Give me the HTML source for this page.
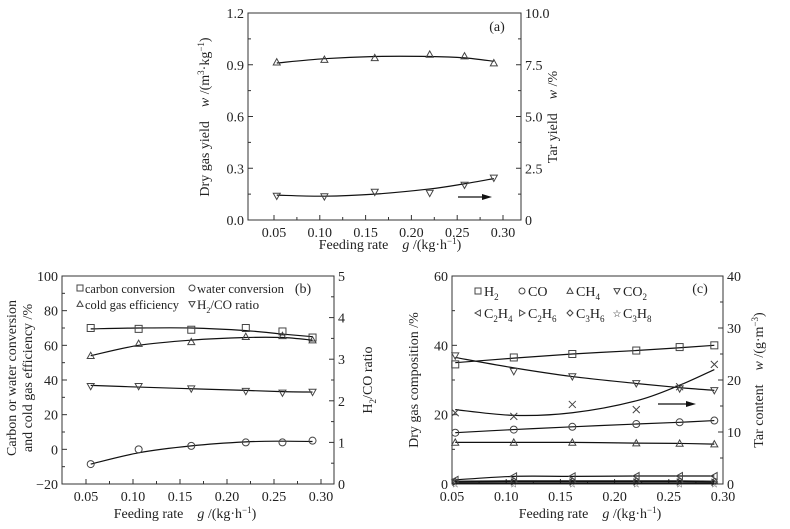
<!DOCTYPE html>
<html><head><meta charset="utf-8"><style>
html,body{margin:0;padding:0;background:#fff;}
svg text{font-family:"Liberation Serif",serif;fill:#222;}
</style></head><body>
<svg id="fig" width="790" height="524" viewBox="0 0 790 524" xmlns="http://www.w3.org/2000/svg"></svg>
<script>
// ---- Panel (a) data ----
const aX = [0.053, 0.105, 0.160, 0.220, 0.258, 0.290];
const aGas = [0.915, 0.93, 0.94, 0.96, 0.95, 0.91];
const aGasFit = [0.91, 0.935, 0.948, 0.948, 0.94, 0.92];
const aTar = [1.16, 1.13, 1.35, 1.30, 1.69, 2.03];
const aTarFit = [1.2, 1.15, 1.25, 1.5, 1.75, 2.0];
const aXTicks = [0.05, 0.10, 0.15, 0.20, 0.25, 0.30];
const aYTicks = ["0.0","0.3","0.6","0.9","1.2"];
const aY2Ticks = ["0","2.5","5.0","7.5","10.0"];
// ---- Panel (b) data ----
const bX = [0.055, 0.106, 0.162, 0.220, 0.259, 0.291];
const bCarbon = [70, 69.5, 69, 70, 68, 64.5];
const bCarbonFit = [69.5, 70, 70, 68.5, 66.5, 65];
const bCold = [54, 61, 62, 65, 65.5, 63];
const bColdFit = [54, 60, 63, 64.5, 64.5, 63];
const bRatio = [2.35, 2.35, 2.29, 2.23, 2.19, 2.21];
const bRatioFit = [2.37, 2.33, 2.29, 2.25, 2.22, 2.21];
const bWater = [-8.5, 0, 2, 4, 4, 5];
const bWaterFit = [-8.5, -2, 2, 4.3, 4.7, 4.5];
const bYTicks = ["-20","0","20","40","60","80","100"];
const bY2Ticks = ["0","1","2","3","4","5"];
// ---- Panel (c) data ----
const cX = [0.053, 0.107, 0.161, 0.220, 0.260, 0.292];
const cH2 = [34.5, 36.5, 37.5, 38.5, 39.5, 40];
const cH2Fit = [35, 36.3, 37.5, 38.5, 39.3, 40];
const cCO2 = [37, 32.5, 31, 29, 27.5, 27];
const cCO2Fit = [36.5, 33.5, 31, 29, 27.8, 27];
const cTar = [13.7, 13, 15.3, 14.3, 18.7, 23];
const cTarFit = [14.3, 13.2, 13.7, 16, 19, 22];
const cCO = [14.8, 15.7, 16.5, 17.3, 17.8, 18.3];
const cCH4 = [12, 12, 12, 11.8, 11.7, 11.5];
const cC2H4 = [1.2, 2.2, 2.2, 2.3, 2.3, 2.3];
const cC2H6 = [0.5, 0.6, 0.6, 0.6, 0.6, 0.5];
const cC3H6 = [0.8, 0.9, 0.9, 0.9, 0.9, 0.8];
const cC3H8 = [0.2, 0.2, 0.2, 0.2, 0.2, 0.2];
const cXTicks = [0.05, 0.10, 0.15, 0.20, 0.25, 0.30];
const cYTicks = ["0","20","40","60"];
const cY2Ticks = ["0","10","20","30","40"];

const NS = "http://www.w3.org/2000/svg";
const svg = document.getElementById('fig');
function el(tag, attrs, parent, txt){
  const e = document.createElementNS(NS, tag);
  for (const k in attrs) e.setAttribute(k, attrs[k]);
  if (txt !== undefined) e.textContent = txt;
  (parent || svg).appendChild(e);
  return e;
}
function scale(d0, d1, r0, r1){ return v => r0 + (v - d0) * (r1 - r0) / (d1 - d0); }
function smooth(pts){
  let d = "M" + pts[0][0] + "," + pts[0][1];
  for (let i = 0; i < pts.length - 1; i++){
    const p0 = pts[i-1] || pts[i], p1 = pts[i], p2 = pts[i+1], p3 = pts[i+2] || p2;
    const c1 = [p1[0] + (p2[0]-p0[0])/6, p1[1] + (p2[1]-p0[1])/6];
    const c2 = [p2[0] - (p3[0]-p1[0])/6, p2[1] - (p3[1]-p1[1])/6];
    d += " C" + c1 + " " + c2 + " " + p2;
  }
  return d;
}
function marker(g, type, x, y, s){
  s = s || 4;
  const st = {fill:"none", stroke:"#444", "stroke-width":1};
  let e;
  if (type === "sq") e = el("rect", Object.assign({x:x-s, y:y-s, width:2*s, height:2*s}, st), g);
  else if (type === "ci") e = el("circle", Object.assign({cx:x, cy:y, r:s}, st), g);
  else if (type === "tu") e = el("polygon", Object.assign({points:`${x},${y-s} ${x-s},${y+s*0.8} ${x+s},${y+s*0.8}`}, st), g);
  else if (type === "td") e = el("polygon", Object.assign({points:`${x},${y+s} ${x-s},${y-s*0.8} ${x+s},${y-s*0.8}`}, st), g);
  else if (type === "tl") e = el("polygon", Object.assign({points:`${x-s},${y} ${x+s*0.8},${y-s} ${x+s*0.8},${y+s}`}, st), g);
  else if (type === "tr") e = el("polygon", Object.assign({points:`${x+s},${y} ${x-s*0.8},${y-s} ${x-s*0.8},${y+s}`}, st), g);
  else if (type === "di") e = el("polygon", Object.assign({points:`${x},${y-s} ${x+s},${y} ${x},${y+s} ${x-s},${y}`}, st), g);
  else if (type === "x") e = el("path", Object.assign({d:`M${x-s},${y-s}L${x+s},${y+s}M${x-s},${y+s}L${x+s},${y-s}`}, st), g);
  else if (type === "st") e = el("text", {x:x, y:y+4, "font-size":10, "text-anchor":"middle"}, g, "☆");
  
  
}
function series(g, name, xs, ys, fit, sx, sy, type, s){
  const sg = el("g", {}, g);
  
  
  if (fit){
    const p = el("path", {d:smooth(xs.map((x,i)=>[sx(x), sy(fit[i])])), fill:"none", stroke:"#111", "stroke-width":1.2}, sg);
    
    
  }
  xs.forEach((x,i)=>marker(sg, type, sx(x), sy(ys[i]), s));
}
function axes(g, L, R, T, B, sx, xt, xd, yl, yr){
  const fr = el("rect", {x:L, y:T, width:R-L, height:B-T, fill:"none", stroke:"#333", "stroke-width":1}, g);
  
  
  const xg = el("g", {}, g);
  
  
  xt.forEach(v=>{
    const x = sx(v);
    el("line", {x1:x, x2:x, y1:B, y2:B-5, stroke:"#333"}, xg);
    const m = sx(v + 0.025);
    if (m < R - 2) el("line", {x1:m, x2:m, y1:B, y2:B-3, stroke:"#333"}, xg);
    const t = el("text", {x:x, y:B+17, "font-size":14, "text-anchor":"middle"}, xg, v.toFixed(xd));
    
    
  });
  [[yl, L, -1, "end"], [yr, R, 1, "start"]].forEach(([ticks, X, dir, anc])=>{
    const yg = el("g", {}, g);
    
    
    const n = ticks.length - 1;
    ticks.forEach((lab, i)=>{
      const y = B - (B - T) * i / n;
      el("line", {x1:X, x2:X - dir*5, y1:y, y2:y, stroke:"#333"}, yg);
      if (i < n){ const ym = y - (B-T)/n/2; el("line", {x1:X, x2:X - dir*3, y1:ym, y2:ym, stroke:"#333"}, yg); }
      const t = el("text", {x:X + dir*4, y:y+5, "font-size":14, "text-anchor":anc}, yg, lab.replace("-", "\u2212"));
      
      
    });
  });
}
function label(g, x, y, html, name, rot){
  const t = el("text", {x:x, y:y, "font-size":14, "text-anchor":"middle", transform: rot ? `rotate(-90 ${x} ${y})` : ""}, g);
  t.innerHTML = html;
  
  
}
function arrow(g, x1, x2, y){
  const a = el("g", {}, g);
  
  
  el("line", {x1:x1, x2:x2-8, y1:y, y2:y, stroke:"#111", "stroke-width":1.3}, a);
  el("polygon", {points:`${x2},${y} ${x2-10},${y-3} ${x2-10},${y+3}`, fill:"#111"}, a);
}
const xlab = 'Feeding rate &#160;&#160;&#160;<tspan font-style="italic">g</tspan> /(kg·h<tspan dy="-5" font-size="9">−1</tspan><tspan dy="5">)</tspan>';

// ---- Panel (a) ----
(function(){
  const g = el("g", {});  
  const L=248,R=521,T=13,B=220;
  const sx = scale(0.05, 0.30, 274, 503), sy = scale(0, 1.2, B, T), sy2 = scale(0, 10, B, T);
  axes(g, L, R, T, B, sx, aXTicks, 2, aYTicks, aY2Ticks);
  series(g, "dry-gas-yield", aX, aGas, aGasFit, sx, sy, "tu", 3.5);
  series(g, "tar-yield", aX, aTar, aTarFit, sx, sy2, "td", 3.5);
  arrow(g, 458, 492, 197);
  label(g, 497, 31, "(a)", "panel-label");
  label(g, 390, 249, xlab, "x-axis-title");
  label(g, 209, 117, 'Dry gas yield &#160;&#160;&#160;<tspan font-style="italic">w</tspan> /(m<tspan dy="-5" font-size="9">3</tspan><tspan dy="5">·kg</tspan><tspan dy="-5" font-size="9">−1</tspan><tspan dy="5">)</tspan>', "y-axis-title", true);
  label(g, 557, 117, 'Tar yield &#160;&#160;&#160;<tspan font-style="italic">w</tspan> /%', "right-y-axis-title", true);
})();

// ---- Panel (b) ----
(function(){
  const g = el("g", {});  
  const L=62,R=334,T=276,B=484;
  const sx = scale(0.05, 0.30, 86, 321), sy = scale(-20, 100, B, T), sy2 = scale(0, 5, B, T);
  axes(g, L, R, T, B, sx, aXTicks, 2, bYTicks, bY2Ticks);
  series(g, "carbon-conversion", bX, bCarbon, bCarbonFit, sx, sy, "sq", 3.5);
  series(g, "cold-gas-efficiency", bX, bCold, bColdFit, sx, sy, "tu", 3.5);
  series(g, "h2-co-ratio", bX, bRatio, bRatioFit, sx, sy2, "td", 3.5);
  series(g, "water-conversion", bX, bWater, bWaterFit, sx, sy, "ci", 3.5);
  const lg = el("g", {}, g);  
  [[80,288,"sq","carbon conversion",90],[192,288,"ci","water conversion",87],[80,304,"tu","cold gas efficiency",94],[192,304,"td",'H<tspan dy="4" font-size="8">2</tspan><tspan dy="-4">/CO ratio</tspan>',0]].forEach(([x,y,m,t,w])=>{
    marker(lg, m, x, y, 3);
    const at = {x:x+5, y:y+5, "font-size":13};
    if (w) { at.textLength = w; at.lengthAdjust = "spacingAndGlyphs"; }
    const tt = el("text", at, lg); tt.innerHTML = t;
     
  });
  label(g, 303, 293, "(b)", "panel-label");
  label(g, 185, 518, xlab, "x-axis-title");
  label(g, 16, 378, "Carbon or water conversion", "y-axis-title", true);
  label(g, 32, 378, "and cold gas efficiency /%", "y-axis-title-2", true);
  label(g, 372, 380, 'H<tspan dy="4" font-size="9">2</tspan><tspan dy="-4">/CO ratio</tspan>', "right-y-axis-title", true);
})();

// ---- Panel (c) ----
(function(){
  const g = el("g", {});  
  const L=452,R=723,T=276,B=484;
  const sx = scale(0.05, 0.30, L, R), sy = scale(0, 60, B, T), sy2 = scale(0, 40, B, T);
  axes(g, L, R, T, B, sx, cXTicks, 2, cYTicks, cY2Ticks);
  series(g, "h2", cX, cH2, cH2Fit, sx, sy, "sq", 3.5);
  series(g, "co2", cX, cCO2, cCO2Fit, sx, sy, "td", 3.5);
  series(g, "tar-content", cX, cTar, cTarFit, sx, sy2, "x", 3.5);
  series(g, "co", cX, cCO, cCO, sx, sy, "ci", 3.5);
  series(g, "ch4", cX, cCH4, cCH4, sx, sy, "tu", 3.5);
  series(g, "c2h4", cX, cC2H4, cC2H4, sx, sy, "tl", 3.5);
  series(g, "c2h6", cX, cC2H6, cC2H6, sx, sy, "tr", 3);
  series(g, "c3h6", cX, cC3H6, cC3H6, sx, sy, "di", 3);
  series(g, "c3h8", cX, cC3H8, cC3H8, sx, sy, "st", 3);
  arrow(g, 658, 696, 404);
  const lg = el("g", {}, g);  
  const ents = [[478,291,"sq",'H<tspan dy="4" font-size="9">2</tspan>'],[522,291,"ci","CO"],[570,291,"tu",'CH<tspan dy="4" font-size="9">4</tspan>'],[617,291,"td",'CO<tspan dy="4" font-size="9">2</tspan>'],
    [478,313,"tl",'C<tspan dy="4" font-size="9">2</tspan><tspan dy="-4">H</tspan><tspan dy="4" font-size="9">4</tspan>'],[522,313,"tr",'C<tspan dy="4" font-size="9">2</tspan><tspan dy="-4">H</tspan><tspan dy="4" font-size="9">6</tspan>'],[570,313,"di",'C<tspan dy="4" font-size="9">3</tspan><tspan dy="-4">H</tspan><tspan dy="4" font-size="9">6</tspan>'],[617,313,"st",'C<tspan dy="4" font-size="9">3</tspan><tspan dy="-4">H</tspan><tspan dy="4" font-size="9">8</tspan>']];
  ents.forEach(([x,y,m,t])=>{
    marker(lg, m, x, y, 3);
    const tt = el("text", {x:x+6, y:y+5, "font-size":14}, lg); tt.innerHTML = t;
     
  });
  label(g, 700, 293, "(c)", "panel-label");
  label(g, 590, 518, xlab, "x-axis-title");
  label(g, 418, 380, "Dry gas composition /%", "y-axis-title", true);
  label(g, 763, 380, 'Tar content &#160;&#160;&#160;<tspan font-style="italic">w</tspan> /(g·m<tspan dy="-5" font-size="9">−3</tspan><tspan dy="5">)</tspan>', "right-y-axis-title", true);
})();
</script>
</body></html>
